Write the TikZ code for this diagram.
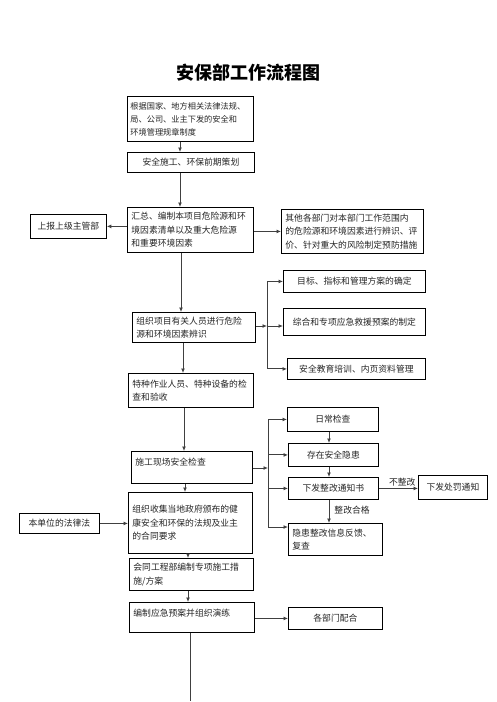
\documentclass[tikz,border=0pt]{standalone}
\usepackage{fontspec}
\setmainfont{Noto Sans CJK SC}
\XeTeXlinebreaklocale "zh"
\usetikzlibrary{arrows.meta}
\newcommand{\fs}{\fontsize{8.8pt}{13.5pt}\selectfont}
\newcommand{\fss}{\fontsize{8.2pt}{13pt}\selectfont}
\tikzset{
  box/.style={draw=black, line width=0.8pt, inner xsep=4pt, inner ysep=2pt,
    font=\fs, text=black!85, anchor=north west},
  lbox/.style={box, align=left},
  cbox/.style={box, align=center},
  conn/.style={draw=black!75, line width=0.9pt},
  arr/.style={conn, -{Latex[length=4.5pt,width=4pt]}},
  lab/.style={font=\fs, text=black!85, inner sep=0pt}
}
\begin{document}
\begin{tikzpicture}[x=1pt,y=-1pt]
\useasboundingbox (0,0) rectangle (496,702);
\fill[white] (0,0) rectangle (496,702);

\node[font=\fontsize{18pt}{20pt}\selectfont\bfseries, inner sep=0pt] (title) at (248,73) {安保部工作流程图};

% main column
\node[lbox, font=\fss, inner xsep=3pt, minimum width=126pt, minimum height=45pt, text width=120pt] (b1) at (127,96)
  {根据国家、地方相关法律法规、\\局、公司、业主下发的安全和\\环境管理规章制度};
\node[cbox, minimum width=127pt, minimum height=20pt] (b2) at (127,152)
  {安全施工、环保前期策划};
\node[lbox, minimum width=126pt, minimum height=45pt, text width=118pt] (b3) at (127,207)
  {汇总、编制本项目危险源和环\\境因素清单以及重大危险源\\和重要环境因素};
\node[cbox, minimum width=76pt, minimum height=24pt] (up) at (30,214)
  {上报上级主管部};
\node[lbox, minimum width=142pt, minimum height=44pt, text width=134pt] (other) at (281,209)
  {其他各部门对本部门工作范围内\\的危险源和环境因素进行辨识、评\\价、针对重大的风险制定预防措施};

\node[lbox, minimum width=123pt, minimum height=30pt, text width=115pt] (b4) at (132,312)
  {组织项目有关人员进行危险\\源和环境因素辨识};
\node[cbox, minimum width=142pt, minimum height=22pt] (t1) at (283,270)
  {目标、指标和管理方案的确定};
\node[cbox, minimum width=142pt, minimum height=27pt] (t2) at (283,308)
  {综合和专项应急救援预案的制定};
\node[cbox, minimum width=138pt, minimum height=21pt] (t3) at (287,358)
  {安全教育培训、内页资料管理};

\node[lbox, minimum width=125pt, minimum height=34pt, text width=117pt] (b5) at (128,373)
  {特种作业人员、特种设备的检\\查和验收};

\node[lbox, minimum width=121pt, minimum height=32pt, text width=113pt, text height=11pt, text depth=15pt] (b6) at (131,451)
  {施工现场安全检查};
\node[cbox, minimum width=91pt, minimum height=24pt] (c1) at (287,407)
  {日常检查};
\node[cbox, minimum width=90pt, minimum height=23pt] (c2) at (288,443)
  {存在安全隐患};
\node[cbox, minimum width=90pt, minimum height=22pt] (c3) at (288,477)
  {下发整改通知书};
\node[lbox, minimum width=94pt, minimum height=32pt, text width=86pt] (c4) at (288,523)
  {隐患整改信息反馈、\\复查};
\node[cbox, minimum width=69pt, minimum height=24pt] (c5) at (418,475)
  {下发处罚通知};

\node[lbox, minimum width=124pt, minimum height=61pt, text width=116pt] (b7) at (128,492)
  {组织收集当地政府颁布的健\\康安全和环保的法规及业主\\的合同要求};
\node[cbox, minimum width=80pt, minimum height=20pt] (law) at (19,513)
  {本单位的法律法};

\node[lbox, minimum width=124pt, minimum height=32pt, text width=116pt] (b8) at (129,558)
  {会同工程部编制专项施工措\\施/方案};
\node[lbox, minimum width=125pt, minimum height=30pt, text width=117pt, text height=11pt, text depth=13pt] (b9) at (129,602)
  {编制应急预案并组织演练};
\node[cbox, minimum width=94pt, minimum height=22pt] (dept) at (288,607)
  {各部门配合};

% junction / free-end coordinates
\coordinate (j1) at (267,326);
\coordinate (j2) at (268,468);
\coordinate (c4in) at (288,527);
\coordinate (bottom) at (190,701);

% vertical spine
\draw[arr] (b1.south -| 180,0) -- (b2.north -| 180,0);
\draw[arr] (b2.south -| 180,0) -- (b3.north -| 180,0);
\draw[arr] (b3.south -| 181,0) -- (b4.north -| 181,0);
\draw[arr] (b4.south -| 183,0) -- (b5.north -| 183,0);
\draw[arr] (b5.south -| 184,0) -- (b6.north -| 184,0);
\draw[arr] (b6.south -| 185,0) -- (b7.north -| 185,0);
\draw[arr] (b7.south -| 188,0) -- (b8.north -| 188,0);
\draw[arr] (b8.south -| 188,0) -- (b9.north -| 188,0);
\draw[conn] (b9.south -| bottom) -- (bottom);

% side branches of b3
\draw[arr] (b3.west |- up.east) -- (up.east);
\draw[arr] (b3.east |- other.west) -- (other.west);

% branches of b4
\draw[arr] (b4.east |- j1) -- (j1);
\draw[conn] (j1 |- t1.west) -- (j1 |- t3.west);
\draw[arr] (j1 |- t1.west) -- (t1.west);
\draw[arr] (j1) -- (t2.west |- j1);
\draw[arr] (j1 |- t3.west) -- (t3.west);

% branches of b6
\draw[arr] (b6.east |- j2) -- (j2);
\draw[conn] (j2 |- c1.west) -- (j2 |- c4in);
\draw[arr] (j2 |- c1.west) -- (c1.west);
\draw[arr] (j2 |- c2.west) -- (c2.west);
\draw[arr] (j2 |- c3.west) -- (c3.west);
\draw[arr] (j2 |- c4in) -- (c4in);

\draw[arr] (c1.south -| 329,0) -- (c2.north -| 329,0);
\draw[arr] (c2.south -| 329,0) -- (c3.north -| 329,0);
\draw[arr] (c3.south -| 329,0) -- (c4.north -| 329,0)
  node[lab, pos=0.45, right=5pt] {整改合格};
\draw[arr] (c3.east) -- (c3.east -| c5.west)
  node[lab, pos=0.6, above=2pt] {不整改};

% b7 and b9 side
\draw[arr] (law.east) -- (law.east -| b7.west);
\draw[arr] (b9.east |- dept.west) -- (dept.west);
\end{tikzpicture}
\end{document}
